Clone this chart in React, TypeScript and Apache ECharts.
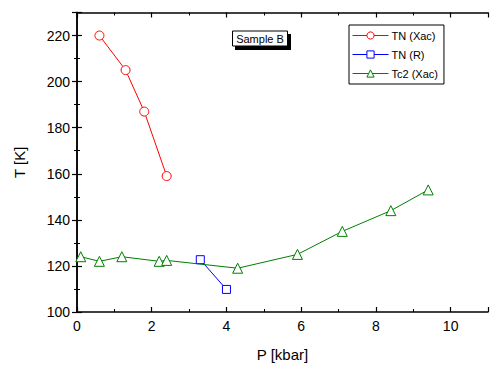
import React, { useEffect, useRef } from "react";
import * as echarts from "echarts";

const tnXac: [number, number][] = [
  [0.6, 220], [1.3, 205], [1.8, 187], [2.4, 159],
];
const tnR: [number, number][] = [
  [3.3, 122.7], [4.0, 109.8],
];
const tc2Xac: [number, number][] = [
  [0.1, 124], [0.6, 122], [1.2, 124], [2.2, 122], [2.4, 122.4],
  [4.3, 119], [5.9, 125], [7.1, 135], [8.4, 144], [9.4, 153],
];
const seriesNames = ["TN (Xac)", "TN (R)", "Tc2 (Xac)"];
const FONT = "Liberation Sans, Arial, sans-serif";

export default function App() {
  const ref = useRef<HTMLDivElement>(null);
  useEffect(() => {
    if (!ref.current) return;
    const chart = echarts.init(ref.current, undefined, { renderer: "svg" });
    const axisCommon = {
      axisLine: { lineStyle: { color: "#000", width: 1.5 } },
      axisTick: { inside: true, length: 5, lineStyle: { color: "#000", width: 1.2 } },
      minorTick: { show: true, splitNumber: 2, length: 3, lineStyle: { color: "#000", width: 1 } },
      splitLine: { show: false },
    };
    const mk = (name: string, data: [number, number][], symbol: string, size: number, color: string) => ({
      name, type: "line", data, symbol, symbolSize: size,
      lineStyle: { color, width: 1 },
      itemStyle: { color: "#fff", borderColor: color, borderWidth: 1 },
    });
    chart.setOption({
      animation: false,
      backgroundColor: "#fff",
      grid: { left: 77, right: 1.5, top: 12.5, bottom: 52, containLabel: false },
      xAxis: [
        {
          type: "value", min: 0, max: 11, interval: 2, position: "bottom",
          name: "P [kbar]", nameLocation: "middle", nameGap: 35,
          nameTextStyle: { fontFamily: FONT, fontSize: 15, color: "#000" },
          axisLabel: { fontFamily: FONT, fontSize: 14, color: "#000", margin: 7,
            formatter: (v: number) => (v > 10 ? "" : String(v)) },
          ...axisCommon,
        },
        {
          type: "value", min: 0, max: 11, interval: 2, position: "top",
          axisLabel: { show: false },
          ...axisCommon,
        },
      ],
      yAxis: [
        {
          type: "value", min: 100, max: 230, interval: 20, position: "left",
          name: "T [K]", nameLocation: "middle", nameGap: 50, nameRotate: 90,
          nameTextStyle: { fontFamily: FONT, fontSize: 15, color: "#000" },
          axisLabel: { fontFamily: FONT, fontSize: 14, color: "#000", margin: 7,
            formatter: (v: number) => (v > 220 ? "" : String(v)) },
          ...axisCommon,
        },
        {
          type: "value", min: 100, max: 230, interval: 20, position: "right",
          axisLabel: { show: false },
          ...axisCommon,
        },
      ],
      legend: {
        orient: "vertical",
        left: 349, top: 25,
        data: seriesNames,
        itemWidth: 36, itemHeight: 9, itemGap: 8,
        padding: [5, 6, 5, 3],
        backgroundColor: "#fff",
        borderColor: "#000", borderWidth: 1,
        lineStyle: { width: 1 },
        itemStyle: { borderWidth: 1 },
        textStyle: { fontFamily: FONT, fontSize: 11, color: "#000", padding: [0, 0, 0, -2] },
        z: 10,
      },
      graphic: [
        { type: "rect", shape: { x: 353, y: 29, width: 90, height: 55 }, style: { fill: "#000" }, z: 5, silent: true },
        { type: "rect", shape: { x: 235, y: 34, width: 56, height: 16 }, style: { fill: "#000" }, z: 5, silent: true },
        { type: "rect", shape: { x: 232.5, y: 31, width: 55, height: 15 }, style: { fill: "#fff", stroke: "#000", lineWidth: 1 }, z: 6, silent: true },
        { type: "text", x: 260, y: 38.5, style: { text: "Sample B", fontFamily: FONT, fontSize: 11, fill: "#000", align: "center", verticalAlign: "middle" }, z: 7, silent: true },
      ],
      series: [
        mk(seriesNames[0], tnXac, "circle", 9, "#ff0000"),
        mk(seriesNames[1], tnR, "rect", 8, "#0000ff"),
        mk(seriesNames[2], tc2Xac, "triangle", 10, "#008000"),
      ],
    });
    return () => chart.dispose();
  }, []);
  return <div ref={ref} style={{ position: "fixed", left: 0, top: 0, width: 491, height: 367 }} />;
}
